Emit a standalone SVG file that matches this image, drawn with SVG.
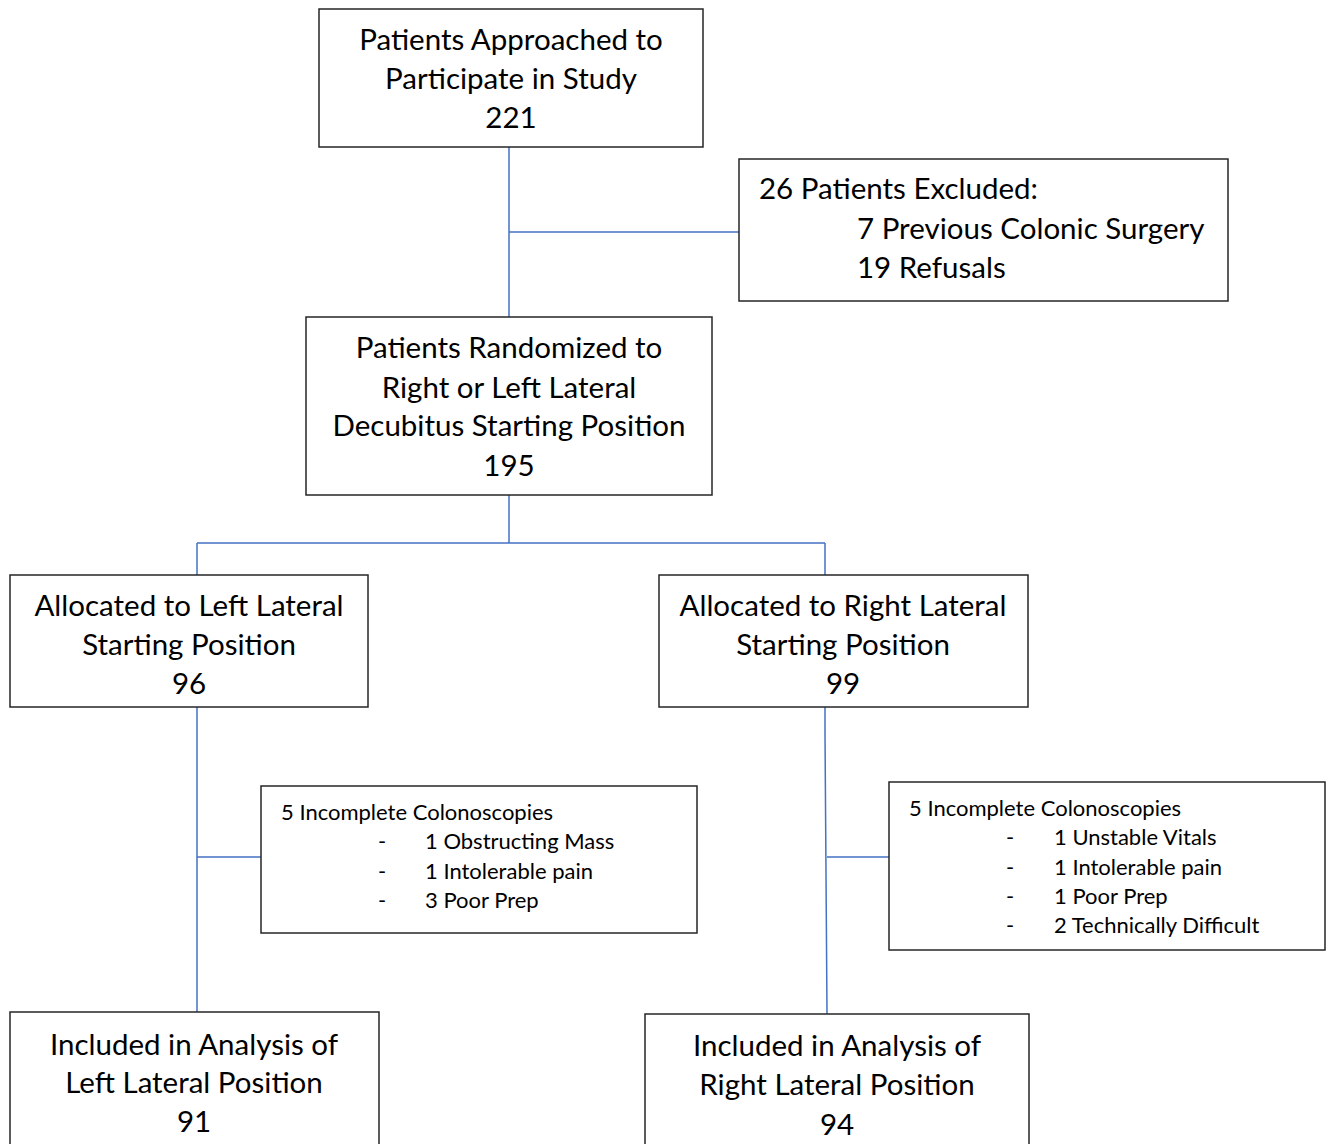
<svg xmlns="http://www.w3.org/2000/svg" width="1334" height="1144" viewBox="0 0 1334 1144">
<style>
.box{fill:#fff;stroke:#262626;stroke-width:1.5}
.t{font-family:Lato,"Liberation Sans",sans-serif;font-size:29.5px;fill:#000}
.c{text-anchor:middle}
.s{font-family:Lato,"Liberation Sans",sans-serif;font-size:22px;fill:#000}
.ln{stroke:#4472C4;stroke-width:1.5;fill:none}
</style>
<rect width="1334" height="1144" fill="#fff"/>
<g id="connectors">
<path class="ln" d="M509 147V317M509 232H739"/>
<path class="ln" d="M509 495V543M197 543H825M197 543V575M825 543V575"/>
<path class="ln" d="M197 707V1012M197 857H261"/>
<path class="ln" d="M825 707V733L827 1014M827 857H889"/>
</g>
<g id="approached">
<rect class="box" x="319" y="9" width="384" height="138"/>
<text class="t c" x="511" y="50">Patients Approached to</text>
<text class="t c" x="511" y="89">Participate in Study</text>
<text class="t c" x="511" y="128">221</text>
</g>
<g id="excluded">
<rect class="box" x="739" y="159" width="489" height="142"/>
<text class="t" x="759" y="199">26 Patients Excluded:</text>
<text class="t" x="857" y="239">7 Previous Colonic Surgery</text>
<text class="t" x="857" y="278">19 Refusals</text>
</g>
<g id="randomized">
<rect class="box" x="306" y="317" width="406" height="178"/>
<text class="t c" x="509" y="358">Patients Randomized to</text>
<text class="t c" x="509" y="398">Right or Left Lateral</text>
<text class="t c" x="509" y="436">Decubitus Starting Position</text>
<text class="t c" x="509" y="476">195</text>
</g>
<g id="left-allocated">
<rect class="box" x="10" y="575" width="358" height="132"/>
<text class="t c" x="189" y="616">Allocated to Left Lateral</text>
<text class="t c" x="189" y="655">Starting Position</text>
<text class="t c" x="189" y="694">96</text>
</g>
<g id="right-allocated">
<rect class="box" x="659" y="575" width="369" height="132"/>
<text class="t c" x="843" y="616">Allocated to Right Lateral</text>
<text class="t c" x="843" y="655">Starting Position</text>
<text class="t c" x="843" y="694">99</text>
</g>
<g id="left-incomplete">
<rect class="box" x="261" y="786" width="436" height="147"/>
<text class="s" x="281" y="820">5 Incomplete Colonoscopies</text>
<text class="s" x="378" y="849">-</text><text class="s" x="425" y="849">1 Obstructing Mass</text>
<text class="s" x="378" y="879">-</text><text class="s" x="425" y="879">1 Intolerable pain</text>
<text class="s" x="378" y="908">-</text><text class="s" x="425" y="908">3 Poor Prep</text>
</g>
<g id="right-incomplete">
<rect class="box" x="889" y="782" width="436" height="168"/>
<text class="s" x="909" y="816">5 Incomplete Colonoscopies</text>
<text class="s" x="1006" y="845">-</text><text class="s" x="1054" y="845">1 Unstable Vitals</text>
<text class="s" x="1006" y="875">-</text><text class="s" x="1054" y="875">1 Intolerable pain</text>
<text class="s" x="1006" y="904">-</text><text class="s" x="1054" y="904">1 Poor Prep</text>
<text class="s" x="1006" y="933">-</text><text class="s" x="1054" y="933">2 Technically Difficult</text>
</g>
<g id="left-included">
<rect class="box" x="10" y="1012" width="369" height="140"/>
<text class="t c" x="194" y="1055">Included in Analysis of</text>
<text class="t c" x="194" y="1093">Left Lateral Position</text>
<text class="t c" x="194" y="1132">91</text>
</g>
<g id="right-included">
<rect class="box" x="645" y="1014" width="384" height="140"/>
<text class="t c" x="837" y="1056">Included in Analysis of</text>
<text class="t c" x="837" y="1095">Right Lateral Position</text>
<text class="t c" x="837" y="1135">94</text>
</g>
</svg>
